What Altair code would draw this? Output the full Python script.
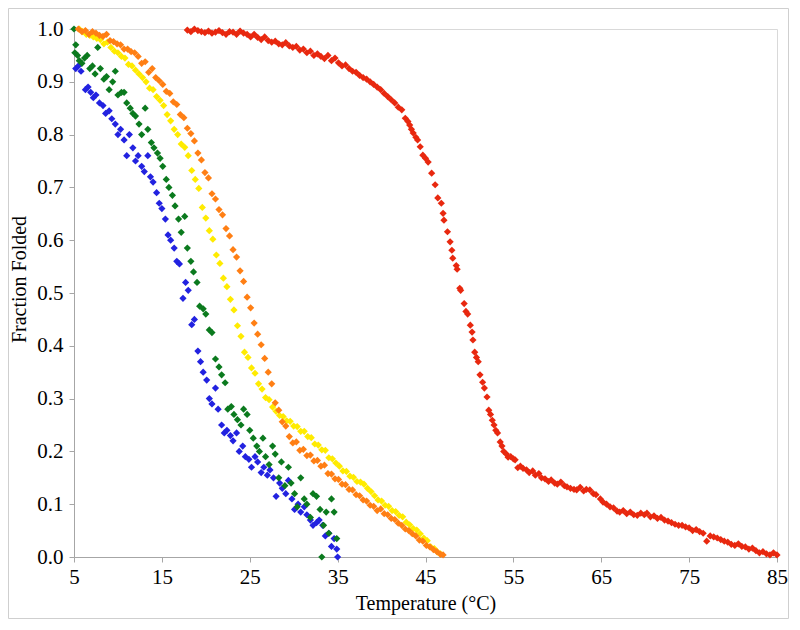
import altair as alt
import pandas as pd

# ---- data (Temperature °C, Fraction Folded) ----
blue_t = [5.2,5.5,5.8,6.3,6.6,6.9,7.2,7.5,7.9,8.3,8.6,9.0,9.3,9.7,10.0,10.3,10.7,11.0,11.3,11.7,
          12.0,12.3,12.7,13.0,13.4,13.7,14.0,14.4,14.7,15.0,15.4,15.7,16.0,16.4,16.7,17.0,17.4,17.7,
          18.0,18.4,18.7,19.1,19.4,19.7,20.1,20.4,20.7,21.1,21.4,21.8,22.1,22.4,22.8,23.1,23.5,23.8,
          24.2,24.5,24.9,25.2,25.6,25.9,26.3,26.6,27.0,27.3,27.7,28.0,28.4,28.7,29.1,29.4,29.8,30.1,
          30.5,30.8,31.2,31.5,31.9,32.2,32.6,32.9,33.3,33.6,34.0,34.3,34.6,34.9,35.0]
blue_f = [0.925,0.93,0.92,0.885,0.89,0.88,0.87,0.875,0.86,0.855,0.84,0.845,0.83,0.82,0.80,0.81,0.79,
          0.76,0.80,0.775,0.75,0.76,0.74,0.73,0.76,0.72,0.71,0.69,0.67,0.66,0.64,0.61,0.60,0.585,0.56,
          0.555,0.49,0.52,0.505,0.44,0.45,0.39,0.37,0.35,0.335,0.30,0.29,0.32,0.28,0.25,0.235,0.24,0.23,
          0.22,0.235,0.20,0.21,0.19,0.185,0.17,0.19,0.18,0.16,0.17,0.155,0.165,0.15,0.115,0.14,0.13,
          0.12,0.145,0.11,0.09,0.10,0.085,0.095,0.08,0.07,0.06,0.065,0.07,0.06,0.04,0.045,0.02,0.035,
          0.015,0.0]

green_t = [5.0,5.1,5.2,5.4,5.6,5.9,6.2,6.5,6.8,7.1,7.4,7.7,8.0,8.4,8.7,9.0,9.4,9.7,10.0,10.4,10.7,
           11.0,11.4,11.7,12.0,12.4,12.7,13.1,13.4,13.8,14.1,14.5,14.8,15.1,15.5,15.8,16.2,16.5,16.9,
           17.2,17.6,17.9,18.3,18.6,19.0,19.3,19.7,20.0,20.4,20.7,21.1,21.5,21.8,22.2,22.5,22.9,23.2,
           23.6,24.0,24.3,24.7,25.0,25.4,25.8,26.1,26.5,26.8,27.2,27.6,27.9,28.3,28.6,29.0,29.4,29.7,
           30.1,30.4,30.8,31.2,31.5,31.9,32.2,32.6,33.0,33.2,33.4,33.7,34.0,34.3,34.6,34.9]
green_f = [1.0,0.955,0.97,0.95,0.94,0.935,0.945,0.95,0.925,0.93,0.915,0.965,0.925,0.905,0.91,0.885,
           0.90,0.92,0.875,0.88,0.88,0.86,0.85,0.84,0.835,0.82,0.80,0.85,0.81,0.785,0.775,0.765,0.755,
           0.74,0.715,0.70,0.685,0.665,0.64,0.615,0.645,0.585,0.56,0.54,0.52,0.475,0.47,0.46,0.43,0.425,
           0.375,0.36,0.345,0.33,0.28,0.285,0.27,0.26,0.25,0.28,0.27,0.24,0.225,0.21,0.20,0.225,0.19,
           0.175,0.21,0.195,0.15,0.18,0.135,0.17,0.14,0.12,0.095,0.15,0.11,0.10,0.075,0.12,0.115,0.09,
           0.0,0.06,0.085,0.045,0.11,0.085,0.035]

yellow_t = [5.6,6.0,6.4,6.8,7.2,7.6,8.0,8.4,8.8,9.2,9.6,10.0,10.4,10.8,11.2,11.6,12.0,12.4,12.8,13.2,
            13.6,14.0,14.4,14.8,15.2,15.6,16.0,16.4,16.8,17.2,17.6,18.0,18.4,18.8,19.2,19.6,20.0,20.4,
            20.8,21.2,21.6,22.0,22.4,22.8,23.2,23.6,24.0,24.4,24.8,25.2,25.6,26.0,26.4,26.8,27.2,27.6,
            28.0,28.4,28.8,29.2,29.6,30.0,30.4,30.8,31.2,31.6,32.0,32.4,32.8,33.2,33.6,34.0,34.4,34.8,
            35.2,35.6,36.0,36.4,36.8,37.2,37.6,38.0,38.4,38.8,39.2,39.6,40.0,40.4,40.8,41.2,41.6,42.0,
            42.4,42.8,43.2,43.6,44.0,44.4,44.8,45.2,45.6,46.0,46.4,46.7]
yellow_f = [1.0,0.995,0.99,0.988,0.985,0.982,0.98,0.972,0.975,0.965,0.958,0.955,0.948,0.945,0.933,
            0.93,0.922,0.915,0.908,0.90,0.888,0.885,0.872,0.865,0.855,0.838,0.826,0.81,0.80,0.782,
            0.776,0.76,0.732,0.715,0.698,0.662,0.642,0.618,0.602,0.572,0.556,0.528,0.512,0.488,0.468,
            0.438,0.418,0.388,0.378,0.358,0.348,0.328,0.318,0.302,0.298,0.284,0.276,0.268,0.266,0.258,
            0.257,0.248,0.247,0.238,0.238,0.228,0.226,0.214,0.212,0.203,0.202,0.188,0.186,0.178,0.172,
            0.163,0.162,0.153,0.151,0.143,0.142,0.138,0.13,0.124,0.116,0.108,0.106,0.098,0.096,0.088,
            0.086,0.079,0.076,0.066,0.061,0.054,0.051,0.044,0.036,0.031,0.019,0.016,0.009,0.006]

orange_t = [5.5,5.9,6.3,6.7,7.1,7.5,7.9,8.3,8.7,9.1,9.5,9.9,10.3,10.7,11.1,11.5,11.9,12.3,12.7,13.1,
            13.5,13.9,14.3,14.7,15.1,15.5,15.9,16.3,16.7,17.1,17.5,17.9,18.3,18.7,19.1,19.5,19.9,20.3,
            20.7,21.1,21.5,21.9,22.3,22.7,23.1,23.5,23.9,24.3,24.7,25.1,25.5,25.9,26.3,26.7,27.1,27.5,
            27.9,28.3,28.7,29.1,29.5,29.9,30.3,30.7,31.1,31.5,31.9,32.3,32.7,33.1,33.5,33.9,34.3,34.7,
            35.1,35.5,35.9,36.3,36.7,37.1,37.5,37.9,38.3,38.7,39.1,39.5,39.9,40.3,40.7,41.1,41.5,41.9,
            42.3,42.7,43.1,43.5,43.9,44.3,44.7,45.1,45.5,45.9,46.3,46.7,47.0]
orange_f = [1.0,0.995,0.997,0.99,0.995,0.992,0.988,0.986,0.99,0.978,0.976,0.972,0.97,0.962,0.962,
            0.957,0.955,0.948,0.935,0.938,0.918,0.925,0.908,0.902,0.895,0.882,0.878,0.862,0.857,0.838,
            0.832,0.812,0.802,0.788,0.765,0.752,0.728,0.718,0.688,0.678,0.658,0.648,0.622,0.608,0.582,
            0.568,0.542,0.522,0.492,0.472,0.443,0.422,0.402,0.376,0.35,0.328,0.292,0.278,0.256,0.248,
            0.228,0.216,0.218,0.202,0.204,0.192,0.193,0.182,0.183,0.172,0.174,0.158,0.157,0.148,0.147,
            0.138,0.137,0.128,0.127,0.118,0.116,0.108,0.106,0.098,0.096,0.088,0.091,0.082,0.08,0.073,
            0.071,0.064,0.06,0.053,0.05,0.044,0.04,0.032,0.03,0.022,0.019,0.014,0.01,0.005,0.004]

red_t = [17.9,18.3,18.7,19.1,19.5,19.9,20.3,20.7,21.1,21.5,21.9,22.3,22.7,23.1,23.5,23.9,24.3,24.7,
         25.1,25.5,25.9,26.3,26.7,27.1,27.5,27.9,28.3,28.7,29.1,29.5,29.9,30.3,30.7,31.1,31.5,31.9,
         32.3,32.7,33.1,33.5,33.9,34.3,34.7,35.1,35.5,35.9,36.3,36.7,37.1,37.5,37.9,38.3,38.7,39.1,
         39.5,39.9,40.3,40.7,41.1,41.5,41.9,42.3,42.7,43.0,43.2,43.4,43.6,43.9,44.1,44.4,44.7,45.0,
         45.3,45.7,46.1,46.4,46.8,47.0,47.1,47.5,47.8,48.0,48.1,48.5,48.6,48.9,49.0,49.4,49.6,49.8,
         50.1,50.3,50.4,50.6,50.8,51.0,51.2,51.5,51.7,52.0,52.2,52.4,52.6,52.8,53.0,53.2,53.5,53.7,
         53.9,54.2,54.4,54.7,55.0,55.2,55.5,55.8,56.1,56.5,56.8,57.2,57.5,57.9,58.2,58.6,59.0,59.3,
         59.7,60.0,60.4,60.8,61.1,61.5,61.9,62.2,62.6,63.0,63.3,63.7,64.1,64.4,64.9,65.2,65.6,66.0,
         66.4,66.8,67.1,67.5,67.9,68.3,68.7,69.1,69.5,69.9,70.2,70.6,71.0,71.4,71.8,72.2,72.6,73.0,
         73.4,73.8,74.2,74.6,75.0,75.4,75.8,76.2,76.6,77.0,77.4,77.8,78.2,78.6,79.0,79.4,79.8,80.2,
         80.6,81.0,81.4,81.8,82.2,82.6,83.0,83.4,83.8,84.2,84.6,85.0]
red_f = [0.998,0.995,1.0,0.997,0.995,0.993,0.996,0.992,0.994,0.997,0.993,0.99,0.995,0.994,0.99,0.996,
         0.992,0.99,0.985,0.99,0.984,0.98,0.985,0.978,0.975,0.977,0.972,0.97,0.974,0.968,0.965,0.967,
         0.96,0.962,0.955,0.958,0.95,0.953,0.948,0.944,0.95,0.94,0.945,0.936,0.93,0.932,0.925,0.92,
         0.918,0.912,0.908,0.905,0.90,0.895,0.89,0.885,0.878,0.872,0.866,0.86,0.852,0.847,0.831,0.825,
         0.818,0.81,0.803,0.795,0.79,0.777,0.761,0.755,0.748,0.727,0.705,0.68,0.67,0.651,0.638,0.616,
         0.597,0.581,0.566,0.552,0.545,0.509,0.505,0.48,0.465,0.46,0.439,0.426,0.411,0.388,0.378,0.37,
         0.345,0.331,0.32,0.303,0.278,0.27,0.259,0.25,0.24,0.235,0.218,0.21,0.20,0.195,0.189,0.19,
         0.186,0.184,0.169,0.172,0.168,0.165,0.16,0.163,0.155,0.158,0.15,0.148,0.143,0.146,0.14,0.138,
         0.142,0.135,0.133,0.13,0.128,0.127,0.132,0.125,0.128,0.127,0.12,0.118,0.11,0.104,0.10,0.095,
         0.093,0.087,0.085,0.088,0.082,0.085,0.08,0.079,0.083,0.08,0.083,0.076,0.078,0.073,0.075,0.07,
         0.068,0.065,0.062,0.06,0.06,0.057,0.055,0.05,0.052,0.048,0.045,0.03,0.04,0.038,0.036,0.033,
         0.03,0.028,0.024,0.022,0.025,0.02,0.019,0.015,0.017,0.012,0.008,0.01,0.006,0.004,0.008,0.004]

series_names = ["blue", "green", "yellow", "orange", "red"]
series_colors = ["#2222E0", "#0B7A1E", "#FFEB00", "#FF7F14", "#E8280F"]
x_ticks = [5, 15, 25, 35, 45, 55, 65, 75, 85]
y_ticks = [0.0, 0.1, 0.2, 0.3, 0.4, 0.5, 0.6, 0.7, 0.8, 0.9, 1.0]

rows = []
for order, (name, ts, fs) in enumerate(zip(series_names,
                                            [blue_t, green_t, yellow_t, orange_t, red_t],
                                            [blue_f, green_f, yellow_f, orange_f, red_f])):
    for t, f in zip(ts, fs):
        rows.append({"Temperature": t, "Fraction": f, "series": name, "ord": order})
df = pd.DataFrame(rows)

W, H = 703, 528
FONT = "Liberation Serif"

points = alt.Chart(df).mark_point(shape="diamond", filled=True, size=52, opacity=1).encode(
    x=alt.X("Temperature:Q",
            scale=alt.Scale(domain=[5, 85], nice=False, zero=False),
            axis=alt.Axis(values=x_ticks, title="Temperature (°C)", grid=False,
                          labelFlush=False, labelPadding=4, titlePadding=6)),
    y=alt.Y("Fraction:Q",
            scale=alt.Scale(domain=[0, 1], nice=False),
            axis=alt.Axis(values=y_ticks, format=".1f", title="Fraction Folded", grid=False,
                          labelFlush=False, labelPadding=6, titlePadding=7, titleY=250)),
    color=alt.Color("series:N", scale=alt.Scale(domain=series_names, range=series_colors),
                    legend=None),
    order=alt.Order("ord:Q"),
)

frame = alt.Chart(pd.DataFrame({"a": [0]})).mark_rect(
    fill=None, stroke="#cfcfcf", strokeWidth=1
).encode(
    x=alt.value(-65.5), x2=alt.value(W + 11.5),
    y=alt.value(-20.5), y2=alt.value(H + 61.5),
)

chart = alt.layer(frame, points).properties(
    width=W, height=H,
    autosize=alt.AutoSizeParams(type="none"),
    padding={"left": 66, "top": 21, "right": 13, "bottom": 63},
    background="white",
).configure_view(
    stroke="#d9d9d9", strokeWidth=1
).configure_axis(
    domainColor="#a6a6a6", tickColor="#a6a6a6", tickSize=5,
    labelFont=FONT, labelFontSize=21, labelColor="black",
    titleFont=FONT, titleFontSize=20, titleFontWeight="normal", titleColor="black",
)

chart.save("out.html", embed_options={"renderer": "svg", "actions": False})
